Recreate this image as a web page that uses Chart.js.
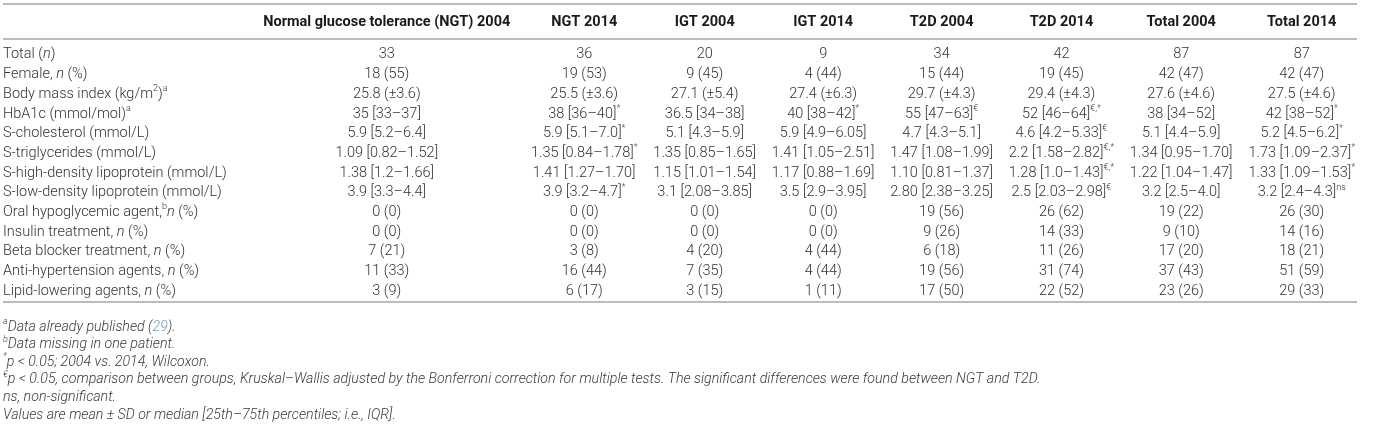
<!DOCTYPE html>
<html>
<head>
<meta charset="utf-8">
<script src="https://cdn.jsdelivr.net/npm/chart.js@4.4.1/dist/chart.umd.min.js"></script>
<style>
html,body{margin:0;padding:0;background:#fff;}
canvas{display:block;}
</style>
</head>
<body>
<canvas id="tableChart" width="1390" height="427"></canvas>
<script>

// TABLE DATA
// markup: _italic_  ^superscript^  ~link colour~

const columns = [
"Normal glucose tolerance (NGT) 2004","NGT 2014","IGT 2004","IGT 2014",
"T2D 2004","T2D 2014","Total 2004","Total 2014"
];

const rowLabels = [
"Total (_n_)",
"Female, _n_ (%)",
"Body mass index (kg/m^2^)^a^",
"HbA1c (mmol/mol)^a^",
"S-cholesterol (mmol/L)",
"S-triglycerides (mmol/L)",
"S-high-density lipoprotein (mmol/L)",
"S-low-density lipoprotein (mmol/L)",
"Oral hypoglycemic agent,^b^_n_ (%)",
"Insulin treatment, _n_ (%)",
"Beta blocker treatment, _n_ (%)",
"Anti-hypertension agents, _n_ (%)",
"Lipid-lowering agents, _n_ (%)"
];

const ngt2004 = ["33","18 (55)","25.8 (±3.6)","35 [33–37]","5.9 [5.2–6.4]","1.09 [0.82–1.52]","1.38 [1.2–1.66]","3.9 [3.3–4.4]","0 (0)","0 (0)","7 (21)","11 (33)","3 (9)"];
const ngt2014 = ["36","19 (53)","25.5 (±3.6)","38 [36–40]^*^","5.9 [5.1–7.0]^*^","1.35 [0.84–1.78]^*^","1.41 [1.27–1.70]","3.9 [3.2–4.7]^*^","0 (0)","0 (0)","3 (8)","16 (44)","6 (17)"];
const igt2004 = ["20","9 (45)","27.1 (±5.4)","36.5 [34–38]","5.1 [4.3–5.9]","1.35 [0.85–1.65]","1.15 [1.01–1.54]","3.1 [2.08–3.85]","0 (0)","0 (0)","4 (20)","7 (35)","3 (15)"];
const igt2014 = ["9","4 (44)","27.4 (±6.3)","40 [38–42]^*^","5.9 [4.9–6.05]","1.41 [1.05–2.51]","1.17 [0.88–1.69]","3.5 [2.9–3.95]","0 (0)","0 (0)","4 (44)","4 (44)","1 (11)"];
const t2d2004 = ["34","15 (44)","29.7 (±4.3)","55 [47–63]^€^","4.7 [4.3–5.1]","1.47 [1.08–1.99]","1.10 [0.81–1.37]","2.80 [2.38–3.25]","19 (56)","9 (26)","6 (18)","19 (56)","17 (50)"];
const t2d2014 = ["42","19 (45)","29.4 (±4.3)","52 [46–64]^€,*^","4.6 [4.2–5.33]^€^","2.2 [1.58–2.82]^€,*^","1.28 [1.0–1.43]^€,*^","2.5 [2.03–2.98]^€^","26 (62)","14 (33)","11 (26)","31 (74)","22 (52)"];
const total2004 = ["87","42 (47)","27.6 (±4.6)","38 [34–52]","5.1 [4.4–5.9]","1.34 [0.95–1.70]","1.22 [1.04–1.47]","3.2 [2.5–4.0]","19 (22)","9 (10)","17 (20)","37 (43)","23 (26)"];
const total2014 = ["87","42 (47)","27.5 (±4.6)","42 [38–52]^*^","5.2 [4.5–6.2]^*^","1.73 [1.09–2.37]^*^","1.33 [1.09–1.53]^*^","3.2 [2.4–4.3]^ns^","26 (30)","14 (16)","18 (21)","51 (59)","29 (33)"];

const footnotes = [
"^a^Data already published (~29~).",
"^b^Data missing in one patient.",
"^*^p < 0.05; 2004 vs. 2014, Wilcoxon.",
"^€^p < 0.05, comparison between groups, Kruskal–Wallis adjusted by the Bonferroni correction for multiple tests. The significant differences were found between NGT and T2D.",
"ns, non-significant.",
"Values are mean ± SD or median [25th–75th percentiles; i.e., IQR]."
];

const valueColumns = [ngt2004,ngt2014,igt2004,igt2014,t2d2004,t2d2014,total2004,total2014];


// STYLES

const FONT = "Roboto, 'Liberation Sans', sans-serif";
const bodyStyle = {weight:300, size:14.5, italic:false, color:"#333333"};
const headStyle = {weight:700, size:14.5, italic:false, color:"#1a1a1a"};
const noteStyle = {weight:300, size:14.2, italic:true, color:"#3a3a3a"};
const linkColor = "#6f9cc9";
const ruleColor = "#a6a6a6";

const tableLeft = 3;
const tableRight = 1357;
const layoutRight = 1363;


// RICH TEXT HELPERS

function parseRich(str){
  const parts = [];
  let cur = "", it = false, sup = false, link = false;
  for (const ch of str) {
    if (ch === "_" || ch === "^" || ch === "~") {
      if (cur) parts.push({t:cur, it, sup, link});
      cur = "";
      if (ch === "_") it = !it;
      if (ch === "^") sup = !sup;
      if (ch === "~") link = !link;
    } else {
      cur += ch;
    }
  }
  if (cur) parts.push({t:cur, it, sup, link});
  return parts;
}

function partFont(p, st){
  const size = p.sup ? Math.round(st.size * 0.64) : st.size;
  const italic = (st.italic || p.it) ? "italic " : "";
  return italic + st.weight + " " + size + "px " + FONT;
}

function richWidth(ctx, str, st){
  let w = 0;
  parseRich(str).forEach(p => {
    ctx.font = partFont(p, st);
    w += ctx.measureText(p.t).width;
  });
  return w;
}

function drawRich(ctx, str, x, y, align, st){
  const parts = parseRich(str);
  let cx = align === "center" ? x - richWidth(ctx, str, st) / 2 : x;
  ctx.textBaseline = "middle";
  ctx.textAlign = "left";
  parts.forEach(p => {
    ctx.font = partFont(p, st);
    ctx.fillStyle = p.link ? linkColor : st.color;
    ctx.fillText(p.t, cx, p.sup ? y - st.size * 0.36 : y);
    cx += ctx.measureText(p.t).width;
  });
}


// COLUMN LAYOUT (auto width from content, spare room shared out)

const measureCtx = document.createElement("canvas").getContext("2d");

const natural = [
  Math.max(...rowLabels.map(s => richWidth(measureCtx, s, bodyStyle)))
].concat(valueColumns.map((vals, i) => Math.max(
  richWidth(measureCtx, columns[i], headStyle),
  ...vals.map(s => richWidth(measureCtx, s, bodyStyle))
)));

const naturalSum = natural.reduce((a,b)=>a+b,0);
const spare = (layoutRight - tableLeft) - naturalSum;
const widths = natural.map(w =>
  w + 0.5 * spare / natural.length + 0.5 * spare * w / naturalSum
);

const colStart = [];
let acc = tableLeft;
widths.forEach(w => { colStart.push(acc); acc += w; });
const colCenter = widths.map((w,i) => colStart[i] + w / 2);


// DATASETS

const datasets = [{
  label: "rows",
  align: "left",
  data: rowLabels.map(r => ({x: tableLeft, y: r, t: r}))
}].concat(valueColumns.map((vals, i) => ({
  label: columns[i],
  align: "center",
  data: vals.map((v, r) => ({x: colCenter[i + 1], y: rowLabels[r], t: v}))
})));


// TABLE PLUGIN

const tablePlugin = {
  id: "tableText",
  afterDraw(chart){
    const ctx = chart.ctx;
    const area = chart.chartArea;
    ctx.save();

    // rules
    ctx.strokeStyle = ruleColor;
    ctx.lineWidth = 1.5;
    [area.top - 41, area.top - 6, area.bottom + 1].forEach(y => {
      ctx.beginPath();
      ctx.moveTo(tableLeft, y);
      ctx.lineTo(tableRight, y);
      ctx.stroke();
    });

    // header
    chart.data.datasets.forEach((ds, i) => {
      if (i === 0) return;
      const el = chart.getDatasetMeta(i).data[0];
      drawRich(ctx, ds.label, el.x, area.top - 22.5, "center", headStyle);
    });

    // cells
    chart.data.datasets.forEach((ds, i) => {
      chart.getDatasetMeta(i).data.forEach((el, j) => {
        drawRich(ctx, ds.data[j].t, el.x, el.y, ds.align, bodyStyle);
      });
    });

    // footnotes
    footnotes.forEach((f, k) => {
      drawRich(ctx, f, tableLeft, area.bottom + 26 + k * 17.6, "left", noteStyle);
    });

    ctx.restore();
  }
};


new Chart(

document.getElementById("tableChart"),

{

type:"scatter",

data:{ datasets: datasets },

options:{
  responsive:false,
  animation:false,
  layout:{ padding:{ top:45, bottom:126, left:0, right:0 } },
  elements:{ point:{ radius:0, hoverRadius:0 } },
  plugins:{ legend:{display:false}, tooltip:{enabled:false} },
  scales:{
    x:{ type:"linear", min:0, max:1390, display:false },
    y:{ type:"category", labels:rowLabels, offset:true, display:false }
  }
},

plugins:[tablePlugin]

});

</script>
</body>
</html>
